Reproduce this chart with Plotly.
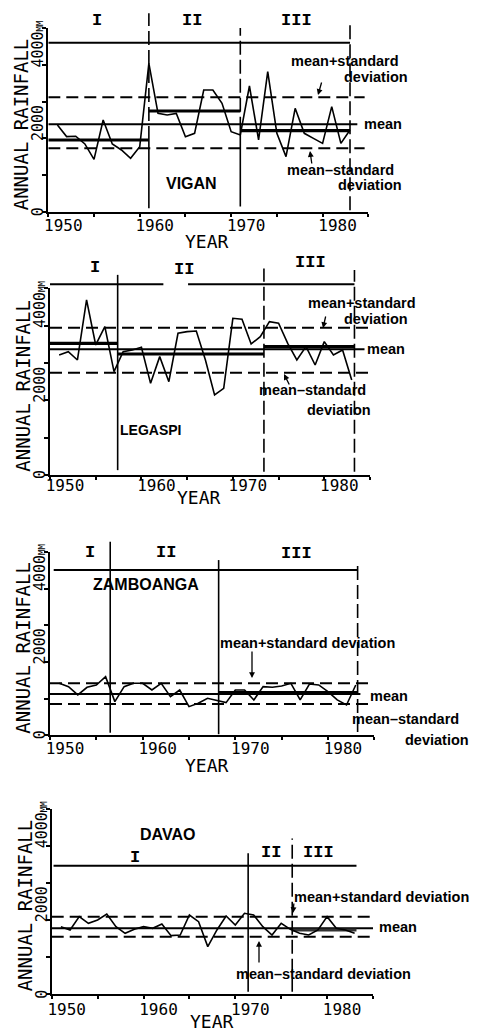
import plotly.graph_objects as go

# ---------------- data ----------------
years = list(range(1951, 1984))
stations = ["VIGAN", "LEGASPI", "ZAMBOANGA", "DAVAO"]

vigan = [2364, 2050, 2060, 1850, 1431, 2500, 1848, 1685, 1458, 1775, 4040,
         2681, 2636, 2681, 2047, 2138, 3315, 3315, 2953, 2183, 2092,
         3424, 1957, 3813, 2138, 1504, 2817, 2138, 2002, 1866, 2862, 1866, 2228]
legaspi = [3214, 3304, 3080, 4688, 3482, 3973, 2768, 3304, 3348, 3420, 2455,
           3170, 2500, 3795, 3839, 3857, 3080, 2143, 2321, 4196, 4170,
           3509, 3705, 4107, 4063, 3527, 3080, 3438, 2946, 3571, 3214, 3348, 2545]
zamboanga = [1418, 1327, 1100, 1309, 1373, 1600, 918, 1327, 1418, 1418, 1236,
             1418, 1055, 1236, 782, 873, 1009, 945, 891, 1236, 1236,
             964, 1327, 1309, 1345, 1418, 964, 1400, 1373, 1191, 964, 827, 1373]
davao = [1823, 1733, 2094, 1913, 2004, 2166, 1823, 1643, 1751, 1823, 1778,
         1895, 1579, 1597, 2139, 1958, 1282, 1733, 2112, 1868, 2184,
         2139, 1823, 1597, 1913, 1751, 1643, 1597, 1733, 2094, 1778, 1733, 1643]
series = [vigan, legaspi, zamboanga, davao]

overall_mean = [2382, 3366, 1127, 1778]
mean_plus_sd = [3116, 3946, 1418, 2094]
mean_minus_sd = [1730, 2741, 855, 1552]
period_breaks = [[1950, 1961, 1971, 1983],
                 [1950, 1957.4, 1973.4, 1983.3],
                 [1950, 1956.5, 1968.2, 1983.2],
                 [1950, 1971.4, 1976.2, 1983.2]]
period_means = [[1957, 2745, 2210],
                [3527, 3241, 3437],
                [None, None, 1164],
                [None, None, 1733]]
bracket_level = [4600, 5107, 4509, 3475]
period_labels = ["I", "II", "III"]

x_tickvals = list(range(1950, 1986, 5))
x_ticktext = ["1950", "", "1960", "", "1970", "", "1980", ""]
y_tickvals = [0, 1000, 2000, 3000, 4000, 5000]

# ---------------- geometry (pixels) ----------------
W, H = 478, 1034
ML, MR, MT, MB = 40, 100, 28, 40
PW, PH = W - ML - MR, H - MT - MB


def fx(p):
    return (p - ML) / PW


def fy(p):
    return (H - MB - p) / PH


panel_x = [(48.3, 368.3), (50, 370), (50, 374.3), (51.7, 373)]
panel_y = [(212, 28), (475, 288.3), (735.3, 552), (994, 809.3)]
line_end = [1983.8, 1984.4, 1983.5, 1985]
dash_end = [1984.6, 1984.9, 1984.9, 1985]
standoff = [-5, -8, -6, -3]

# vertical period lines: (year, top value, bottom value, dash)
verticals = [
    [(1961, 5400, 1957, "dash"), (1961, 1957, 100, "solid"),
     (1971, 5000, 2210, "dash"), (1971, 2210, 150, "solid"),
     (1983, 5100, 50, "dash")],
    [(1957.4, 5360, 130, "solid"), (1973.4, 5530, 90, "dash"),
     (1983.3, 5490, 90, "dash")],
    [(1956.5, 5280, 70, "solid"), (1968.2, 4780, 30, "solid"),
     (1983.2, 4640, 90, "dash")],
    [(1971.4, 3810, 60, "solid"), (1976.2, 4210, 60, "dash")],
]
bracket_segments = [
    [(1950, 1983)],
    [(1950, 1962.4), (1965.1, 1983.3)],
    [(1950.4, 1983.2)],
    [(1950.2, 1983.2)],
]

MONO = "DejaVu Sans Mono"
SANS = "Liberation Sans"
DASH = "12px,6px"

fig = go.Figure()
shapes = []
annotations = []

for i in range(4):
    k = i + 1
    sfx = "" if k == 1 else str(k)
    xa = "x" + sfx
    ya = "y" + sfx
    x0, x1 = panel_x[i]
    yb, yt = panel_y[i]

    fig.update_layout(**{
        f"xaxis{sfx}": dict(
            domain=[fx(x0), fx(x1)], range=[1950, 1985], anchor=ya,
            showline=True, linecolor="black", linewidth=2,
            ticks="outside", ticklen=3, tickwidth=2, tickcolor="black",
            tickvals=x_tickvals, ticktext=x_ticktext,
            ticklabelshift=15, ticklabelstandoff=standoff[i],
            tickfont=dict(family=MONO, size=16, color="black"),
            showgrid=False, zeroline=False, fixedrange=True),
        f"yaxis{sfx}": dict(
            domain=[fy(yb), fy(yt)], range=[0, 5000], anchor=xa,
            showline=True, linecolor="black", linewidth=2,
            ticks="outside", ticklen=4, tickwidth=2, tickcolor="black",
            tickvals=y_tickvals, showticklabels=False,
            showgrid=False, zeroline=False, fixedrange=True),
    })

    # overall reference lines
    fig.add_trace(go.Scatter(x=[1950, dash_end[i]], y=[mean_plus_sd[i]] * 2, xaxis=xa, yaxis=ya,
                             mode="lines", line=dict(color="black", width=2, dash=DASH),
                             showlegend=False, hoverinfo="skip"))
    fig.add_trace(go.Scatter(x=[1950, dash_end[i]], y=[mean_minus_sd[i]] * 2, xaxis=xa, yaxis=ya,
                             mode="lines", line=dict(color="black", width=2, dash=DASH),
                             showlegend=False, hoverinfo="skip"))
    fig.add_trace(go.Scatter(x=[1950, line_end[i]], y=[overall_mean[i]] * 2, xaxis=xa, yaxis=ya,
                             mode="lines", line=dict(color="black", width=2),
                             showlegend=False, hoverinfo="skip"))
    # period means
    for p in range(3):
        pm = period_means[i][p]
        if pm is None:
            continue
        fig.add_trace(go.Scatter(x=[period_breaks[i][p], period_breaks[i][p + 1]], y=[pm, pm],
                                 xaxis=xa, yaxis=ya, mode="lines",
                                 line=dict(color="#333" if i == 3 else "black", width=3.2),
                                 showlegend=False, hoverinfo="skip"))
    # rainfall series
    fig.add_trace(go.Scatter(x=years, y=series[i], xaxis=xa, yaxis=ya, mode="lines",
                             line=dict(color="black", width=1.6),
                             showlegend=False, hoverinfo="skip"))

    # vertical period lines & top bracket line
    for (xv, top, bot, dsh) in verticals[i]:
        shapes.append(dict(type="line", xref=xa, yref=f"{ya} domain",
                           x0=xv, x1=xv, y0=bot / 5000, y1=top / 5000,
                           line=dict(color="black", width=1.6,
                                     dash=("14px,5px" if dsh == "dash" else "solid"))))
    for (s0, s1) in bracket_segments[i]:
        shapes.append(dict(type="line", xref=xa, yref=f"{ya} domain",
                           x0=s0, x1=s1, y0=bracket_level[i] / 5000, y1=bracket_level[i] / 5000,
                           line=dict(color="black", width=2)))

    # y tick labels and title (rotated, as in the original)
    annotations.append(dict(text="0", xref="paper", yref=ya, x=fx(x0 - 10), y=0,
                            xanchor="center", yanchor="middle", textangle=-90, showarrow=False,
                            font=dict(family=MONO, size=15, color="black")))
    annotations.append(dict(text="2000", xref="paper", yref=ya, x=fx(x0 - 10), y=1880,
                            xanchor="center", yanchor="bottom", textangle=-90, showarrow=False,
                            font=dict(family=MONO, size=15, color="black")))
    annotations.append(dict(text="4000<span style='font-size:9px'>MM</span>", xref="paper", yref=ya,
                            x=fx(x0 - 10), y=3880,
                            xanchor="center", yanchor="bottom", textangle=-90, showarrow=False,
                            font=dict(family=MONO, size=15, color="black")))
    annotations.append(dict(text="ANNUAL RAINFALL", xref="paper", yref="paper",
                            x=fx(x0 - 27), y=fy((yb + yt) / 2 + 4),
                            xanchor="center", yanchor="middle", textangle=-90, showarrow=False,
                            font=dict(family=MONO, size=19, color="black")))

# ---------------- free texts (pixel positions) ----------------
roman = [
    [(97, 20), (192, 20), (296, 20)],
    [(95, 267), (184, 270), (310, 262)],
    [(90, 552), (166, 552), (296, 553)],
    [(135, 857), (271, 852), (318, 852)],
]
for i in range(4):
    for p in range(3):
        px, py = roman[i][p]
        annotations.append(dict(text=period_labels[p], xref="paper", yref="paper",
                                x=fx(px), y=fy(py), xanchor="center", yanchor="middle",
                                showarrow=False,
                                font=dict(family="Liberation Mono", size=17, color="black", weight="bold")))

names_pos = [(191, 184, 16), (150, 430, 14), (146, 584, 16), (167, 834, 16)]
for i in range(4):
    px, py, sz = names_pos[i]
    annotations.append(dict(text=stations[i], xref="paper", yref="paper", x=fx(px), y=fy(py),
                            xanchor="center", yanchor="middle", showarrow=False,
                            font=dict(family=SANS, size=sz, color="black", weight="bold")))

year_pos = [(207, 241), (199, 498), (207, 765), (212, 1022)]
for (px, py) in year_pos:
    annotations.append(dict(text="YEAR", xref="paper", yref="paper", x=fx(px), y=fy(py),
                            xanchor="center", yanchor="middle", showarrow=False,
                            font=dict(family=MONO, size=18, color="black")))

labels = [
    ("mean+standard", 345, 61, "center"), ("deviation", 376, 77, "center"),
    ("mean", 362, 124, "left"),
    ("mean\u2013standard", 340, 170, "center"), ("deviation", 370, 185, "center"),
    ("mean+standard", 362, 303, "center"), ("deviation", 376, 319, "center"),
    ("mean", 365, 349, "left"),
    ("mean\u2013standard", 312, 390, "center"), ("deviation", 339, 410, "center"),
    ("mean+standard deviation", 307, 643, "center"),
    ("mean", 368, 696, "left"),
    ("mean\u2013standard", 405, 719, "center"), ("deviation", 437, 740, "center"),
    ("mean+standard deviation", 381, 897, "center"),
    ("mean", 377, 927, "left"),
    ("mean\u2013standard deviation", 323, 974, "center"),
]
for (t, px, py, anc) in labels:
    annotations.append(dict(text=t, xref="paper", yref="paper", x=fx(px), y=fy(py),
                            xanchor=anc, yanchor="middle", showarrow=False,
                            font=dict(family=SANS, size=14.5, color="black", weight="bold")))

arrows = [(318, 95, 322, 81), (310, 151, 312, 165), (323, 328, 326, 315),
          (284, 374, 290, 386), (252, 678, 252, 650), (293, 913, 294, 902),
          (259, 941, 259, 964)]
for (hx, hy, tx, ty) in arrows:
    annotations.append(dict(text="", xref="paper", yref="paper", x=fx(hx), y=fy(hy),
                            ax=tx - hx, ay=ty - hy, showarrow=True, arrowhead=2,
                            arrowsize=0.9, arrowwidth=1.3, arrowcolor="black"))

fig.update_layout(width=W, height=H, margin=dict(l=ML, r=MR, t=MT, b=MB),
                  paper_bgcolor="white", plot_bgcolor="white",
                  shapes=shapes, annotations=annotations, showlegend=False)

fig.write_html("out.html",
               config={"displayModeBar": False, "staticPlot": True},
               post_script="document.body.style.margin='0px';document.body.style.overflow='hidden';")
